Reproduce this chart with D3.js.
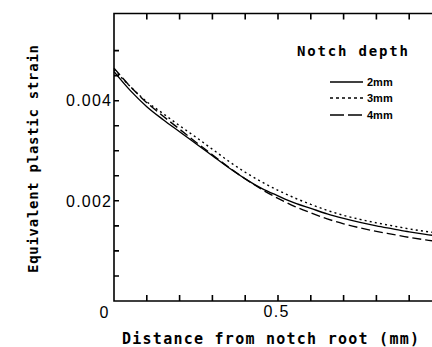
<!DOCTYPE html>
<html><head><meta charset="utf-8">
<script src="https://cdn.jsdelivr.net/npm/d3@7"></script>
<style>html,body{margin:0;padding:0;background:#fff;}svg{display:block;}</style>
</head><body>
<svg id="c" width="432" height="347"></svg>
<script>
const distance = [0,0.05,0.1,0.15,0.2,0.25,0.3,0.35,0.4,0.45,0.5,0.55,0.6,0.65,0.7,0.75,0.8,0.85,0.9,0.95,1.0];
const strain2mm = [0.00458,0.00420,0.00388,0.00362,0.00338,0.00314,0.00290,0.00266,0.00244,0.00225,0.00210,0.00196,0.00185,0.00174,0.00165,0.00157,0.00150,0.00144,0.00138,0.00133,0.00129];
const strain3mm = [0.00462,0.00428,0.00398,0.00374,0.00350,0.00327,0.00303,0.00279,0.00257,0.00238,0.00221,0.00206,0.00193,0.00181,0.00171,0.00163,0.00156,0.00150,0.00144,0.00139,0.00135];
const strain4mm = [0.00465,0.00428,0.00396,0.00369,0.00343,0.00317,0.00292,0.00267,0.00244,0.00223,0.00205,0.00189,0.00176,0.00164,0.00154,0.00146,0.00139,0.00133,0.00127,0.00122,0.00118];
const seriesNames = ["2mm","3mm","4mm"];
const xTicks = [0.1,0.2,0.3,0.4,0.5,0.6,0.7,0.8,0.9];
const xTickLabels = [{v:0.5,t:"0.5"}];
const yTicks = [0.0005,0.001,0.0015,0.002,0.0025,0.003,0.0035,0.004,0.0045,0.005];
const yTickLabels = [{v:0.002,t:"0.002"},{v:0.004,t:"0.004"}];
const originLabel = "0";
const xTitle = "Distance from notch root (mm)";
const yTitle = "Equivalent plastic strain";
const legendTitle = "Notch depth";

const svg = d3.select("#c");
const x = d3.scaleLinear().domain([0,1]).range([114,442]);
const y = d3.scaleLinear().domain([0,0.00574]).range([301,13.5]);
const ink = "#000";
const mono = "'DejaVu Sans Mono', monospace";
const sans = "'Liberation Sans', Arial, sans-serif";
const yTop = y.range()[1], yBot = y(0), x0 = x(0);
const tickLen = 6;

// frame
svg.append("path").attr("d","M432,"+yTop+"H"+x0+"V"+yBot+"H432")
  .attr("fill","none").attr("stroke",ink).attr("stroke-width",1.6);
// tick marks (inward) as one path
let td = "";
xTicks.forEach(v=>{ const xx = x(v).toFixed(1);
  td += "M"+xx+","+yBot+"V"+(yBot-tickLen)+"M"+xx+","+yTop+"V"+(yTop+tickLen); });
yTicks.forEach(v=>{ td += "M"+x0+","+y(v).toFixed(1)+"H"+(x0+5); });
svg.append("path").attr("d",td).attr("fill","none").attr("stroke",ink).attr("stroke-width",1.6);

// tick labels
svg.selectAll(".ylab").data(yTickLabels).join("text")
  .attr("x",x0-3).attr("y",d=>y(d.v)).attr("dy","0.36em")
  .attr("text-anchor","end").attr("font-family",sans).attr("font-size",16)
  .attr("textLength",45).attr("lengthAdjust","spacing").attr("fill",ink).text(d=>d.t);
svg.selectAll(".xlab").data(xTickLabels).join("text")
  .attr("x",d=>x(d.v)-2).attr("y",yBot+16)
  .attr("text-anchor","middle").attr("font-family",sans).attr("font-size",16)
  .attr("textLength",25).attr("lengthAdjust","spacing").attr("fill",ink).text(d=>d.t);
svg.append("text").attr("x",104).attr("y",yBot+16.5).attr("text-anchor","middle")
  .attr("font-family",sans).attr("font-size",16).attr("fill",ink).text(originLabel);

// titles
svg.append("text").attr("x",122).attr("y",344).attr("font-family",mono).attr("font-weight","bold")
  .attr("font-size",15).attr("textLength",297).attr("lengthAdjust","spacing").attr("fill",ink).text(xTitle);
svg.append("text").attr("transform","translate(38,273) rotate(-90)").attr("x",0).attr("y",0)
  .attr("font-family",mono).attr("font-weight","bold").attr("font-size",14)
  .attr("textLength",228).attr("lengthAdjust","spacing").attr("fill",ink).text(yTitle);

// curves
const styles = {"2mm":null,"3mm":"2,3.2","4mm":"9,4"};
const data = {"2mm":strain2mm,"3mm":strain3mm,"4mm":strain4mm};
const line = d3.line().x(d=>x(d[0])).y(d=>y(d[1])).curve(d3.curveMonotoneX);
seriesNames.forEach(n=>{
  svg.append("path").datum(distance.map((d,i)=>[d,data[n][i]]))
    .attr("d",line).attr("fill","none").attr("stroke",ink).attr("stroke-width",1.4)
    .attr("stroke-dasharray",styles[n]);
});

// legend
svg.append("text").attr("x",297).attr("y",56).attr("font-family",mono).attr("font-weight","bold")
  .attr("font-size",14).attr("textLength",111).attr("lengthAdjust","spacing").attr("fill",ink).text(legendTitle);
const legY = [82,98,115];
seriesNames.forEach((n,i)=>{
  svg.append("line").attr("x1",330).attr("x2",363).attr("y1",legY[i]).attr("y2",legY[i])
    .attr("stroke",ink).attr("stroke-width",1.3).attr("stroke-dasharray",n==="4mm"?"14,4":(n==="3mm"?"3,3":null));
  svg.append("text").attr("x",367).attr("y",legY[i]+4).attr("font-family",sans).attr("font-weight","bold")
    .attr("font-size",11).attr("fill",ink).text(n);
});
</script>
</body></html>
